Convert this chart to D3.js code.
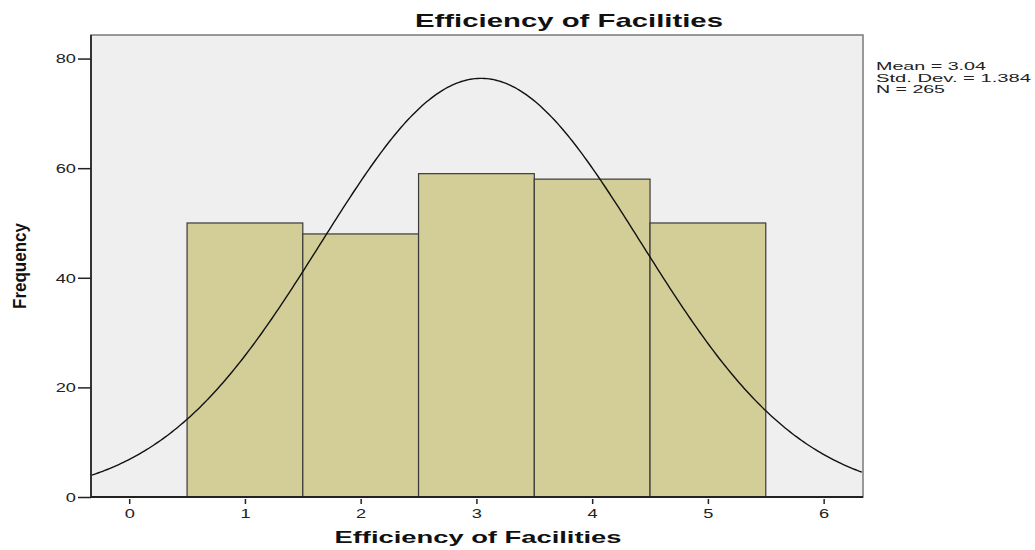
<!DOCTYPE html>
<html>
<script src="https://cdnjs.cloudflare.com/ajax/libs/d3/7.8.5/d3.min.js"></script>
<style>
  body { margin: 0; background: #fff; }
  text { font-family: Arial, "Liberation Sans", sans-serif; }
</style>
<body>
<svg width="1035" height="550"></svg>
<script>
// histogram bins (value centers) and frequencies
var binCenters = [1, 2, 3, 4, 5];
var frequencies = [50, 48, 59, 58, 50];
var xTicks = [0, 1, 2, 3, 4, 5, 6];
var yTicks = [0, 20, 40, 60, 80];
var statMean = 3.04, statSd = 1.384, statN = 265;
var statLines = ['Mean = 3.04', 'Std. Dev. = 1.384', 'N = 265'];

var svg = d3.select('svg');
var pLeft = 91, pTop = 35, pRight = 863, pBottom = 497;

var x = d3.scaleLinear().domain([-0.33, 6.34]).range([pLeft, pRight]);
var y = d3.scaleLinear().domain([0, 84.3]).range([pBottom, pTop]);

// the reference text is drawn wide, so stretch each text sideways
function stretch(sel, f) {
  sel.each(function () {
    var len = this.getComputedTextLength();
    d3.select(this).attr('textLength', len * f).attr('lengthAdjust', 'spacingAndGlyphs');
  });
}

// plot background
svg.append('rect')
  .attr('x', pLeft).attr('y', pTop)
  .attr('width', pRight - pLeft).attr('height', pBottom - pTop)
  .attr('fill', '#efefef')
  .attr('stroke', '#7a7a7a').attr('stroke-width', 1.5);

// bars
svg.append('g').selectAll('rect').data(binCenters).enter().append('rect')
  .attr('x', function (d) { return x(d - 0.5); })
  .attr('y', function (d, i) { return y(frequencies[i]); })
  .attr('width', function (d) { return x(d + 0.5) - x(d - 0.5); })
  .attr('height', function (d, i) { return y(0) - y(frequencies[i]); })
  .attr('fill', '#d3ce98')
  .attr('stroke', '#3a3a3a').attr('stroke-width', 1.2);

// normal curve from the stated mean / sd / N (bin width 1)
var curveX = d3.range(-0.33, 6.341, 0.02);
function dens(v) {
  return statN / (statSd * Math.sqrt(2 * Math.PI)) * Math.exp(-0.5 * Math.pow((v - statMean) / statSd, 2));
}
svg.append('path')
  .datum(curveX)
  .attr('fill', 'none').attr('stroke', '#111').attr('stroke-width', 1.4)
  .attr('d', d3.line().x(function (d) { return x(d); }).y(function (d) { return y(dens(d)); }));

// axes lines
svg.append('line').attr('x1', pLeft).attr('x2', pLeft).attr('y1', pTop).attr('y2', pBottom)
  .attr('stroke', '#333').attr('stroke-width', 2);
svg.append('line').attr('x1', pLeft).attr('x2', pRight).attr('y1', pBottom).attr('y2', pBottom)
  .attr('stroke', '#222').attr('stroke-width', 2);

// y axis
var yAxis = svg.append('g').attr('transform', 'translate(' + pLeft + ',0)')
  .call(d3.axisLeft(y).tickValues(yTicks).tickFormat(d3.format('d')).tickSize(13).tickPadding(2));
yAxis.select('.domain').remove();
yAxis.selectAll('line').attr('stroke', '#222').attr('stroke-width', 1.5);
yAxis.selectAll('text').attr('font-size', 13.5).attr('fill', '#222').attr('font-family', 'Arial, "Liberation Sans", sans-serif');
stretch(yAxis.selectAll('text'), 1.35);

// x axis
var xAxis = svg.append('g').attr('transform', 'translate(0,' + (pBottom + 2) + ')')
  .call(d3.axisBottom(x).tickValues(xTicks).tickFormat(d3.format('d')).tickSize(5).tickPadding(4));
xAxis.select('.domain').remove();
xAxis.selectAll('line').attr('stroke', '#222').attr('stroke-width', 1.5);
xAxis.selectAll('text').attr('font-size', 13.5).attr('fill', '#222').attr('font-family', 'Arial, "Liberation Sans", sans-serif');
stretch(xAxis.selectAll('text'), 1.35);

// title and labels
var title = svg.append('text').attr('x', 569).attr('y', 27).attr('text-anchor', 'middle')
  .attr('font-size', 19).attr('font-weight', 'bold').attr('fill', '#111')
  .text('Efficiency of Facilities');
title.attr('textLength', 308).attr('lengthAdjust', 'spacingAndGlyphs');

var xLabel = svg.append('text').attr('x', 478).attr('y', 543).attr('text-anchor', 'middle')
  .attr('font-size', 16.5).attr('font-weight', 'bold').attr('fill', '#111')
  .text('Efficiency of Facilities');
xLabel.attr('textLength', 287).attr('lengthAdjust', 'spacingAndGlyphs');

svg.append('text').attr('transform', 'translate(26,266) rotate(-90)').attr('text-anchor', 'middle')
  .attr('font-size', 19).attr('font-weight', 'bold').attr('fill', '#111')
  .attr('textLength', 86).attr('lengthAdjust', 'spacingAndGlyphs')
  .text('Frequency');

// stats box
var statWidths = [110, 155, 69];
svg.append('g').selectAll('text').data(statLines).enter().append('text')
  .attr('x', 876).attr('y', function (d, i) { return 70 + i * 11.5; })
  .attr('font-size', 11.5).attr('fill', '#222')
  .attr('textLength', function (d, i) { return statWidths[i]; })
  .attr('lengthAdjust', 'spacingAndGlyphs')
  .text(function (d) { return d; });
</script>
</body>
</html>
